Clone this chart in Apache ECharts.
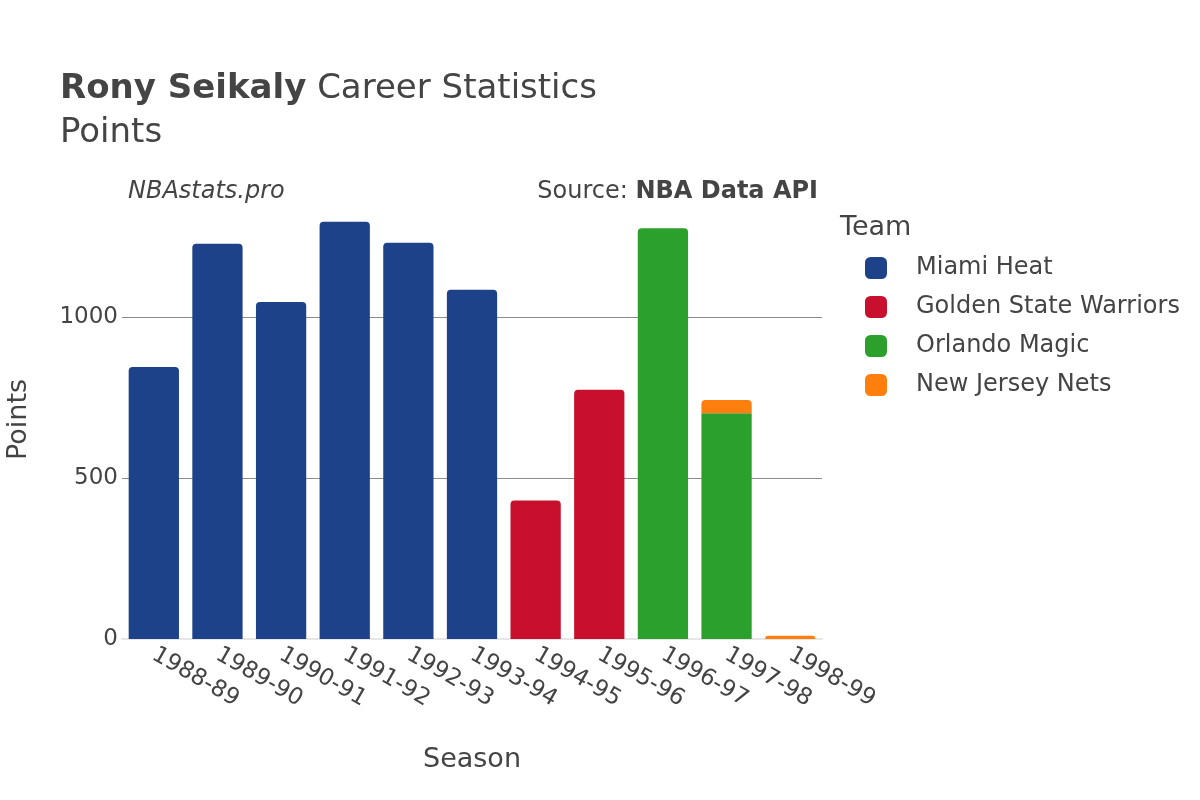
<!DOCTYPE html>
<html>
<head>
<meta charset="utf-8">
<script src="https://cdn.jsdelivr.net/npm/echarts@6/dist/echarts.min.js"></script>
<style>
  html, body { margin: 0; padding: 0; background: #fff; }
  #chart { width: 1200px; height: 800px; }
</style>
</head>
<body>
<div id="chart"></div>
<script>
const seasons = ["1988-89", "1989-90", "1990-91", "1991-92", "1992-93", "1993-94",
  "1994-95", "1995-96", "1996-97", "1997-98", "1998-99"];
const miamiHeat = [846, 1229, 1048, 1297, 1232, 1086, null, null, null, null, null];
const goldenState = [null, null, null, null, null, null, 431, 775, null, null, null];
const orlandoMagic = [null, null, null, null, null, null, null, null, 1277, 702, null];
const newJerseyNets = [null, null, null, null, null, null, null, null, null, 41, 10];
const yTicks = [0, 500, 1000];

const teams = [
  { name: "Miami Heat", values: miamiHeat, color: "#1d428a" },
  { name: "Golden State Warriors", values: goldenState, color: "#c8102e" },
  { name: "Orlando Magic", values: orlandoMagic, color: "#2ca02c" },
  { name: "New Jersey Nets", values: newJerseyNets, color: "#ff7f0e" }
];

const font = "DejaVu Sans";
const textColor = "#444";

// only the top piece of each stacked bar gets rounded corners
function barData(teamIndex) {
  return teams[teamIndex].values.map((v, i) => {
    if (v == null) return null;
    const covered = teams.slice(teamIndex + 1).some((t) => t.values[i] != null);
    return { value: v, itemStyle: { borderRadius: covered ? 0 : [4, 4, 0, 0] } };
  });
}

const chart = echarts.init(document.getElementById("chart"));
chart.setOption({
  animation: false,
  textStyle: { fontFamily: font, color: textColor },
  title: {
    left: 55,
    top: 62,
    text: "{b|Rony Seikaly}{r| Career Statistics}\n{r|Points}",
    textStyle: {
      fontWeight: "normal",
      rich: {
        b: { fontFamily: font, fontSize: 34, fontWeight: "bold", color: textColor, lineHeight: 44 },
        r: { fontFamily: font, fontSize: 34, fontWeight: "normal", color: textColor, lineHeight: 44 }
      }
    }
  },
  graphic: [
    {
      type: "text", left: 128, top: 180,
      style: { text: "NBAstats.pro", font: "italic 24px 'DejaVu Sans'", fill: textColor }
    },
    {
      type: "text", right: 382, top: 180,
      style: {
        text: "{r|Source: }{b|NBA Data API}",
        rich: {
          r: { fontFamily: font, fontSize: 24, fill: textColor },
          b: { fontFamily: font, fontSize: 24, fontWeight: "bold", fill: textColor }
        }
      }
    },
    {
      type: "text", left: 840, top: 214,
      style: { text: "Team", font: "27px 'DejaVu Sans'", fill: textColor }
    }
  ],
  legend: {
    orient: "vertical",
    left: 860,
    top: 251,
    icon: "roundRect",
    itemWidth: 22,
    itemHeight: 22,
    itemGap: 15,
    textStyle: { fontFamily: font, fontSize: 24, color: textColor, padding: [0, 0, 0, 24] },
    data: teams.map((t) => t.name)
  },
  grid: { left: 122, right: 378, top: 200, bottom: 161, outerBoundsMode: "none" },
  xAxis: {
    type: "category",
    data: seasons,
    name: "Season",
    nameLocation: "middle",
    nameGap: 107,
    nameTextStyle: { fontSize: 27, color: textColor },
    axisLine: { lineStyle: { color: "#e6e6e6", width: 2 } },
    axisTick: { show: false },
    axisLabel: { rotate: -30, margin: 14, fontSize: 23, color: textColor, interval: 0 }
  },
  yAxis: {
    type: "value",
    min: 0,
    max: 1365,
    interval: 500,
    name: "Points",
    nameLocation: "middle",
    nameGap: 90,
    nameTextStyle: { fontSize: 27, color: textColor },
    axisLine: { show: false },
    axisTick: { show: false },
    axisLabel: {
      fontSize: 23, color: textColor, margin: 4, showMaxLabel: false,
      formatter: (v) => (yTicks.includes(v) ? String(v) : "")
    },
    splitLine: { showMinLine: false, showMaxLine: false, lineStyle: { color: "#8c8c8c", width: 1 } }
  },
  series: teams.map((t, k) => ({
    name: t.name,
    type: "bar",
    stack: "points",
    barCategoryGap: "21%",
    itemStyle: { color: t.color },
    data: barData(k)
  }))
});
</script>
</body>
</html>
